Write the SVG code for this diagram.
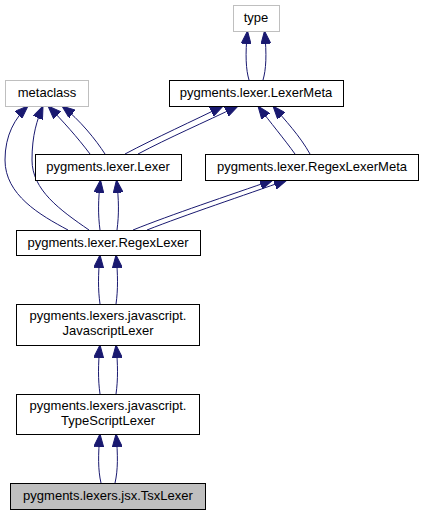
<svg xmlns="http://www.w3.org/2000/svg" width="424" height="515" viewBox="0 0 424 515">
<style>
.n{fill:#ffffff;stroke:#000000;stroke-width:1}
.g{fill:#ffffff;stroke:#bfbfbf;stroke-width:1}
.s{fill:#bfbfbf;stroke:#000000;stroke-width:1}
text{font-family:"Liberation Sans",Arial,sans-serif;font-size:13px;fill:#000000;text-anchor:middle}
.e path{fill:none;stroke:#191970;stroke-width:1;marker-end:url(#a)}
</style>
<defs>
<marker id="a" viewBox="0 0 13 10" refX="13" refY="5" markerWidth="13" markerHeight="10" markerUnits="userSpaceOnUse" orient="auto">
<path d="M0,0 L13,5 L0,10 z" fill="#191970" stroke="#191970" stroke-width="1"/>
</marker>
</defs>
<rect width="424" height="515" fill="#ffffff"/>
<g id="connectors" class="e">
<path d="M249,80 C246,70 245,55 247.5,31"/>
<path d="M263,80 C266,70 267,55 264.5,31"/>
<path d="M90,154 C78,138 62,120 48,106"/>
<path d="M105,154 C96,140 80,120 62,106"/>
<path d="M68,230 C40,215 5,195 5,160 C5,135 15,118 28,106"/>
<path d="M89,230 C60,210 32,190 32,160 C32,135 37,120 43,106"/>
<path d="M125,154 C155,138 195,120 223,106"/>
<path d="M138,154 C168,138 205,122 238,106"/>
<path d="M295,154 C285,140 270,122 258,106"/>
<path d="M310,154 C300,136 285,120 273,106"/>
<path d="M100,230 C98,215 98,200 100.5,180"/>
<path d="M117,230 C119,215 119,200 116.5,180"/>
<path d="M133,230 C170,215 230,195 273,180"/>
<path d="M147,230 C185,215 245,195 287,180"/>
<path d="M100,304 C98,290 98,275 100,255"/>
<path d="M116,304 C118,290 118,275 116,255"/>
<path d="M100,394 C98,380 98,365 100,345"/>
<path d="M116,394 C118,380 118,365 116,345"/>
<path d="M101,483 C98,470 98,455 100,434"/>
<path d="M115,483 C118,470 118,455 116,434"/>
</g>
<g id="type"><rect class="g" x="233.5" y="5.5" width="46" height="26"/><text x="256" y="22">type</text></g>
<g id="metaclass"><rect class="g" x="5.5" y="80.5" width="83" height="26"/><text x="47" y="97">metaclass</text></g>
<g id="LexerMeta"><rect class="n" x="169.5" y="80.5" width="174" height="26"/><text x="256" y="97">pygments.lexer.LexerMeta</text></g>
<g id="Lexer"><rect class="n" x="35.5" y="154.5" width="146" height="26"/><text x="108" y="171">pygments.lexer.Lexer</text></g>
<g id="RegexLexerMeta"><rect class="n" x="205.5" y="154.5" width="213" height="26"/><text x="312" y="171">pygments.lexer.RegexLexerMeta</text></g>
<g id="RegexLexer"><rect class="n" x="16.5" y="230.5" width="184" height="25"/><text x="108" y="246.5">pygments.lexer.RegexLexer</text></g>
<g id="JavascriptLexer"><rect class="n" x="16.5" y="304.5" width="183" height="41"/><text x="108" y="320">pygments.lexers.javascript.</text><text x="108" y="335">JavascriptLexer</text></g>
<g id="TypeScriptLexer"><rect class="n" x="16.5" y="394.5" width="183" height="40"/><text x="108" y="410">pygments.lexers.javascript.</text><text x="108" y="425">TypeScriptLexer</text></g>
<g id="TsxLexer"><rect class="s" x="10.5" y="483.5" width="195" height="26"/><text x="108" y="500">pygments.lexers.jsx.TsxLexer</text></g>
</svg>
